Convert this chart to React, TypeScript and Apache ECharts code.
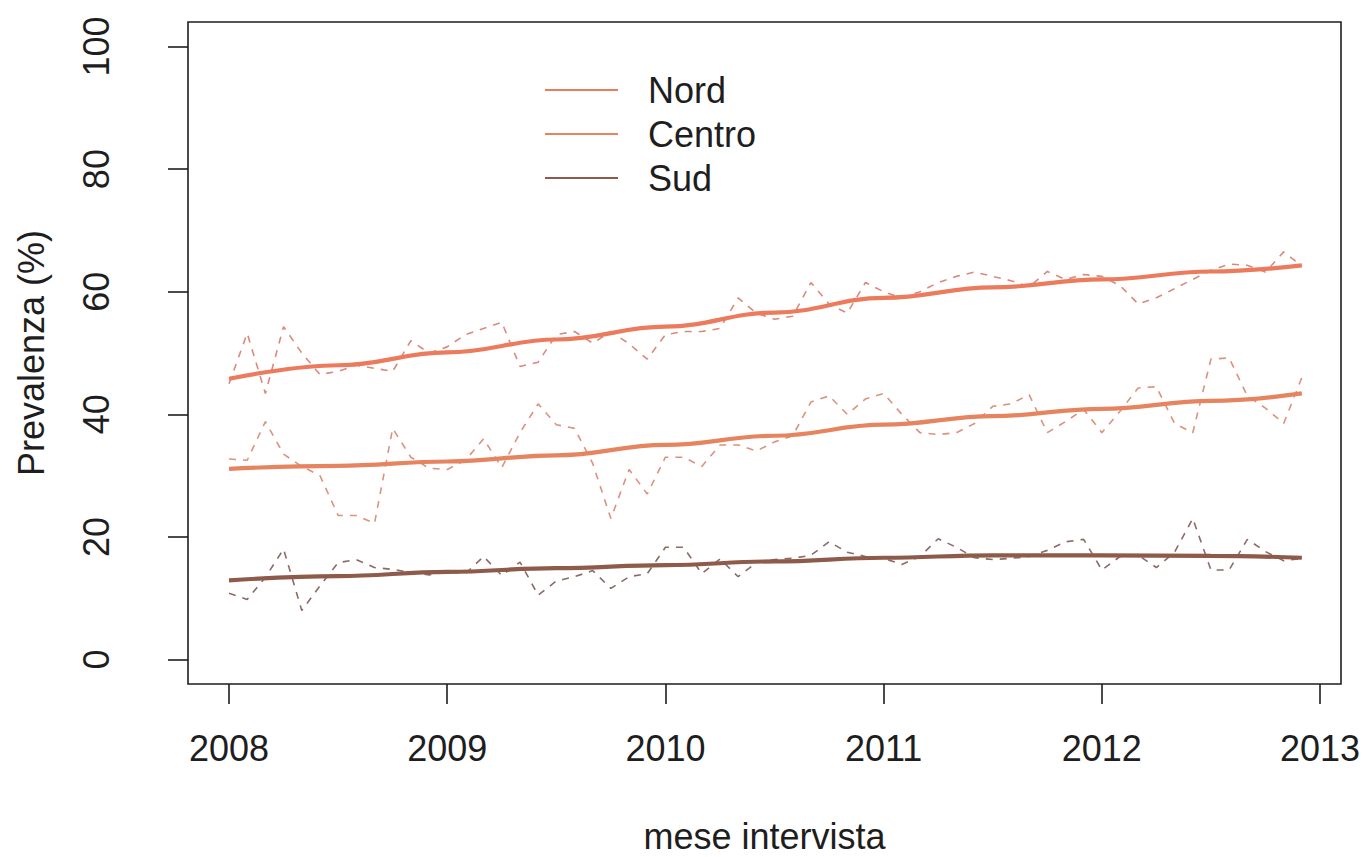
import React, { useEffect, useRef } from "react";
import * as echarts from "echarts";

// Monthly prevalence values (Jan 2008 .. Dec 2012)
const nordMonthly = [
  45, 53.2, 43.4, 54.3, 50, 46.5, 47, 48, 47.5, 47,
  52, 50, 51, 53, 54, 55, 47.8, 48.5, 53, 53.5,
  51.6, 53.5, 51.5, 49, 53, 53.5, 53.5, 54, 59, 56.5,
  55.5, 56, 61.5, 58, 56.5, 61.5, 60, 59, 60, 61.5,
  62.5, 63.2, 62.5, 61.8, 60.8, 63.3, 62, 62.8, 62.5, 61,
  58, 59, 60.5, 62, 63.5, 64.5, 64.3, 63.2, 66.5, 64.2,
];
const centroMonthly = [
  32.7, 32.5, 38.8, 33.5, 31.5, 30, 23.5, 23.5, 22.2, 37.7,
  33, 31.2, 31, 32.5, 36, 31.3, 37, 41.7, 38.3, 37.7,
  32, 23, 31, 27, 33, 33, 31.5, 35, 35, 34,
  35.5, 36.5, 42, 43, 40, 42.5, 43.4, 40, 37, 36.7,
  37, 38.5, 41.3, 41.7, 43.2, 37, 38.8, 40.8, 37, 40.5,
  44.3, 44.5, 38.5, 37, 49, 49.2, 43, 41, 38.5, 46,
];
const sudMonthly = [
  10.8, 9.8, 13.4, 18, 8, 12, 15.8, 16.3, 15, 14.7,
  14.2, 13.8, 14.3, 14, 16.8, 13.7, 15.9, 10.5, 12.8, 13.5,
  14.5, 11.6, 13.5, 14, 18.3, 18.3, 14, 16.4, 13.5, 15.8,
  16.3, 16.5, 17, 19.2, 17.5, 16.8, 16.5, 15.5, 16.8, 19.7,
  18.3, 16.6, 16.3, 16.5, 16.8, 17.8, 19.2, 19.6, 14.6, 16.8,
  17, 15, 17.5, 23, 14.6, 14.6, 19.6, 17.6, 16.1, 16.5,
];

// Smoothed trend lines, read at these month indices
const trendMonths = [0, 6, 12, 18, 24, 30, 36, 42, 48, 54, 59];
const nordTrend = [45.8, 48.0, 50.1, 52.2, 54.3, 56.6, 59.0, 60.7, 62.0, 63.3, 64.3];
const centroTrend = [31.1, 31.6, 32.3, 33.3, 35.0, 36.5, 38.3, 39.7, 40.9, 42.2, 43.4];
const sudTrend = [12.9, 13.6, 14.3, 14.9, 15.4, 16.0, 16.6, 17.0, 17.0, 16.9, 16.6];

const xTicks = [2008, 2009, 2010, 2011, 2012, 2013];
const yTicks = [0, 20, 40, 60, 80, 100];
const seriesNames = ["Nord", "Centro", "Sud"];

const startYear = 2008;
const monthToYear = (m: number) => startYear + m / 12;
const monthly = (vals: number[]) => vals.map((v, i) => [monthToYear(i), v]);
const trend = (vals: number[]) => vals.map((v, i) => [monthToYear(trendMonths[i]), v]);

const FONT = "'Liberation Sans', Arial, Helvetica, sans-serif";
const INK = "#1e1e1e";

const solidColors = ["#EC7A5C", "#E5845F", "#8E5A4A"];
const dashColors = ["#D98A7E", "#D9937F", "#8C6B64"];

export default function App() {
  const ref = useRef<HTMLDivElement>(null);
  useEffect(() => {
    if (!ref.current) return;
    const chart = echarts.init(ref.current, undefined, { renderer: "svg" });
    const dashed = [nordMonthly, centroMonthly, sudMonthly].map((vals, k) => ({
      name: seriesNames[k] + " mensile",
      type: "line",
      data: monthly(vals),
      symbol: "none",
      smooth: false,
      lineStyle: { color: dashColors[k], width: 1.6, type: [7, 7] },
      z: 2,
    }));
    const solid = [nordTrend, centroTrend, sudTrend].map((vals, k) => ({
      name: seriesNames[k],
      type: "line",
      data: trend(vals),
      symbol: "none",
      smooth: 0.4,
      smoothMonotone: "x",
      itemStyle: { color: solidColors[k] },
      lineStyle: { color: solidColors[k], width: 4.2 },
      z: 3,
    }));
    chart.setOption({
      animation: false,
      backgroundColor: "#ffffff",
      textStyle: { fontFamily: FONT },
      grid: {
        left: 188,
        right: 23,
        top: 22,
        bottom: 173,
        outerBoundsMode: "none",
        containLabel: false,
        show: true,
        borderColor: INK,
        borderWidth: 1.6,
        backgroundColor: "transparent",
      },
      legend: {
        data: seriesNames,
        orient: "vertical",
        left: 545,
        top: 72,
        padding: 0,
        icon: "rect",
        itemWidth: 73,
        itemHeight: 2,
        itemGap: 8,
        textStyle: {
          fontSize: 36,
          color: INK,
          fontFamily: FONT,
          padding: [0, 0, 0, 25],
          lineHeight: 36,
        },
      },
      xAxis: {
        type: "value",
        min: 2007.812,
        max: 2013.096,
        axisLine: { show: false, onZero: false },
        splitLine: { show: false },
        axisTick: {
          show: true,
          customValues: xTicks,
          length: 20,
          lineStyle: { color: INK, width: 1.6 },
        },
        axisLabel: {
          customValues: xTicks,
          fontSize: 36,
          color: INK,
          fontFamily: FONT,
          margin: 46,
          formatter: (v: number) => String(v),
        },
        name: "mese intervista",
        nameLocation: "middle",
        nameGap: 137,
        nameTextStyle: { fontSize: 36, color: INK, fontFamily: FONT, lineHeight: 30 },
      },
      yAxis: {
        type: "value",
        min: -4,
        max: 104,
        axisLine: { show: false, onZero: false },
        splitLine: { show: false },
        axisTick: {
          show: true,
          customValues: yTicks,
          length: 20,
          lineStyle: { color: INK, width: 1.6 },
        },
        axisLabel: {
          customValues: yTicks,
          rotate: 90,
          fontSize: 36,
          color: INK,
          fontFamily: FONT,
          margin: 74,
          formatter: (v: number) => String(v),
        },
        name: "Prevalenza (%)",
        nameLocation: "middle",
        nameGap: 139,
        nameRotate: 90,
        nameTextStyle: { fontSize: 36, color: INK, fontFamily: FONT },
      },
      series: [...dashed, ...solid],
    });
    return () => chart.dispose();
  }, []);
  return (
    <div
      ref={ref}
      style={{ position: "fixed", left: 0, top: 0, width: 1364, height: 857 }}
    />
  );
}
